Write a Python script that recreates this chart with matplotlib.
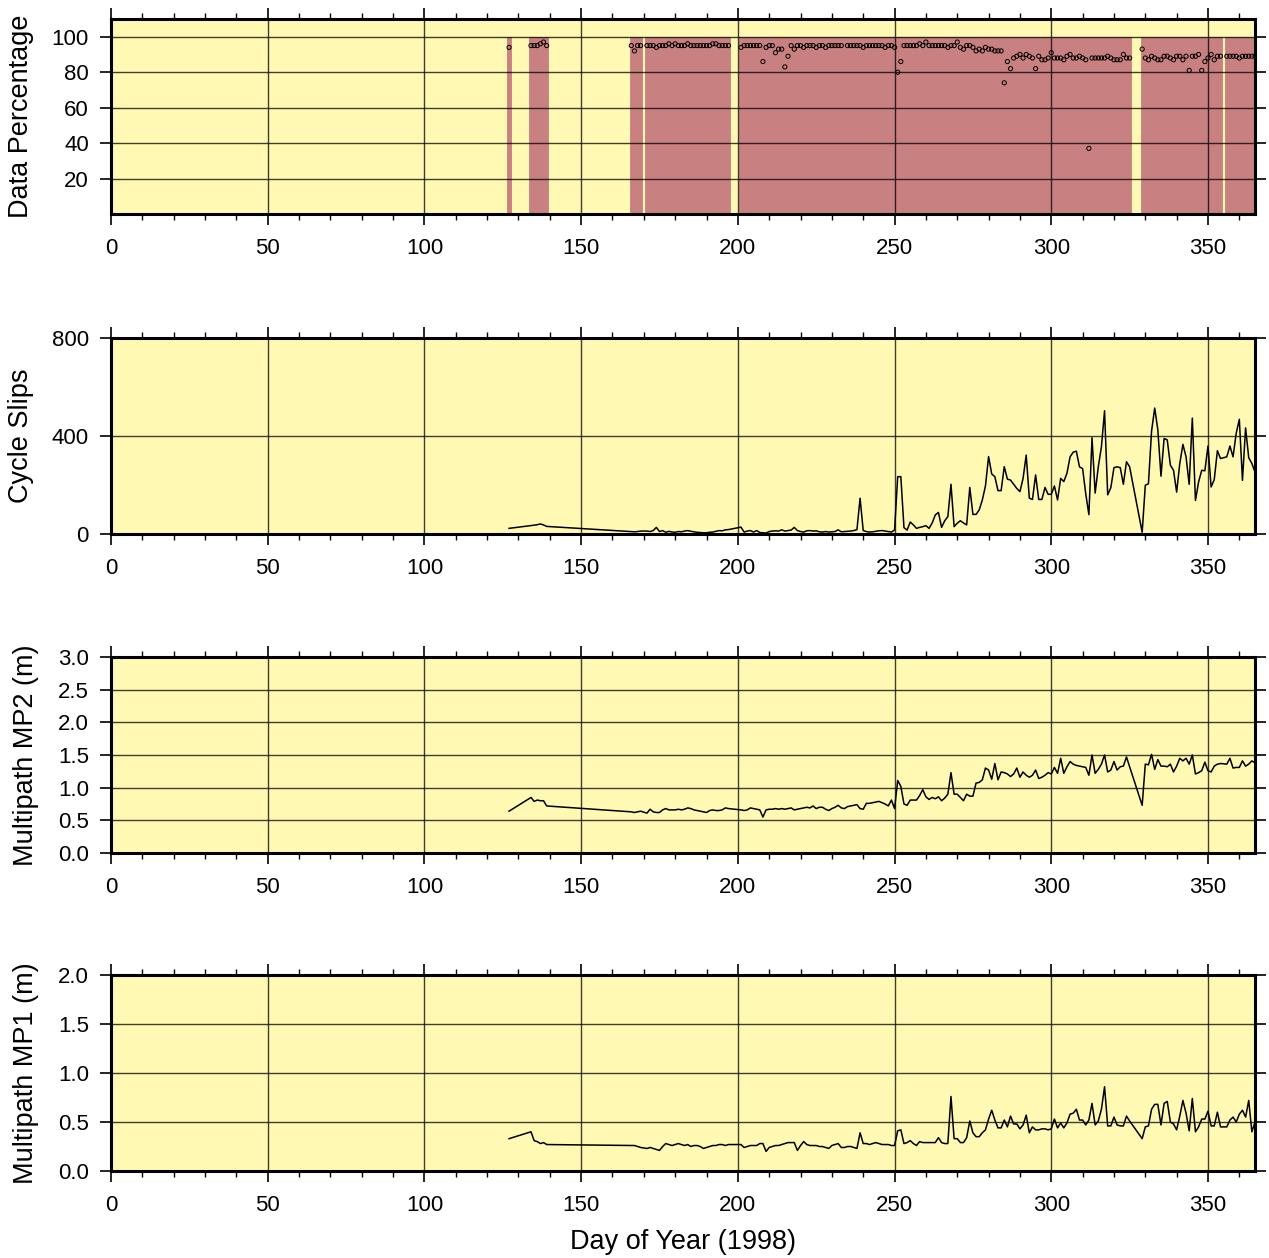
import numpy as np
import matplotlib
matplotlib.use("Agg")
import matplotlib.pyplot as plt
from matplotlib.ticker import MultipleLocator

plt.rcParams['font.family'] = ['Liberation Sans', 'DejaVu Sans']

# ---------------- data ----------------
days = ([127] + list(range(134, 140)) + list(range(166, 170)) + list(range(171, 198))
        + list(range(201, 326)) + list(range(329, 355)) + list(range(356, 366)))

data_pct = ([94]
    + [95, 95, 95, 96, 97, 95]
    + [95, 92, 95, 95]
    + [95, 95, 95, 94, 95, 95, 95, 96, 95, 96, 95, 95, 95, 96, 95, 95, 95, 95, 95, 95, 95, 96, 96, 95, 95, 95, 95]
    + [94, 95, 95, 95, 95, 95, 95, 86, 94, 95,
       95, 91, 93, 93, 83, 89, 95, 93, 95, 95,
       94, 95, 95, 95, 94, 95, 95, 94, 95, 95,
       95, 95, 95, np.nan, 95, 95, 95, 95]
    + [95, 94, 95, 95, 95, 95, 95, 95, 94, 95, 95, 94]
    + [80, 86, 95, 95, 95, 95, 95, 96, 95, 97]
    + [95, 95, 95, 95, 95, 95, 94, 95, 95, 97]
    + [94, 93, 95, 95, 94, 92, 93, 92, 94, 93]
    + [93, 92, 92, 92, 74, 86, 82, 88, 89, 90]
    + [88, 90, 89, 88, 82, 89, 87, 87, 88, 91]
    + [88, 88, 88, 87, 89, 90, 88, 88, 89, 88]
    + [87, 37, 88, 88, 88, 88, 88, 89, 88, 87]
    + [87, 87, 90, 88, 88]
    + [93, 88, 87, 89, 88, 87, 87, 89, 89, 88, 87, 89, 89, 87, 89, 81, 89, 89, 90, 81, 86, 88, 90, 87, 89, 89]
    + [89, 89, 89, 89, 88, 89, 89, 89, 89, 89])

cycle_slips = ([23]
    + [34, 36, 38, 41, 37, 31]
    + [10, 9, 10, 12]
    + [12, 10, 14, 27, 10, 14, 7, 11, 8, 7, 10, 9, 12, 14, 11, 9, 7, 6, 5, 5, 7, 8, 11, 14, 13, 17, 18]
    + [28, 8, 12, 14, 8, 14, 6, 5, 4, 10,
       12, 13, 12, 17, 12, 14, 16, 27, 14, 10,
       8, 13, 14, 12, 13, 9, 8, 10, 8, 9,
       10, 17, 9, 10, 11, 12, 14, 18]
    + [146, 14, 10, 8, 9, 11, 13, 14, 12, 10, 8, 16]
    + [234, 234, 26, 16, 49, 37, 23, 27, 30, 34]
    + [23, 45, 78, 88, 27, 54, 71, 203, 30, 44]
    + [54, 45, 37, 190, 80, 80, 98, 139, 196, 316]
    + [245, 234, 177, 177, 275, 224, 220, 203, 186, 173]
    + [227, 322, 146, 141, 241, 141, 141, 190, 162, 162]
    + [196, 139, 227, 214, 248, 315, 334, 338, 274, 267]
    + [164, 79, 393, 167, 274, 356, 503, 160, 189, 271]
    + [274, 271, 203, 295, 274]
    + [7, 199, 205, 420, 514, 425, 236, 390, 384, 281, 260, 171, 288, 366, 315, 203, 473, 137, 212, 260, 258, 359, 192, 222, 340, 308]
    + [315, 359, 315, 411, 468, 219, 433, 311, 288, 253])

mp2 = ([0.64]
    + [0.85, 0.79, 0.81, 0.80, 0.80, 0.72]
    + [0.63, 0.62, 0.63, 0.64]
    + [0.61, 0.67, 0.63, 0.62, 0.62, 0.66, 0.68, 0.66, 0.66, 0.66, 0.67, 0.66, 0.67, 0.69,
       0.68, 0.66, 0.65, 0.64, 0.63, 0.62, 0.65, 0.66, 0.65, 0.65, 0.66, 0.69, 0.68]
    + [0.66, 0.65, 0.66, 0.69, 0.68, 0.67, 0.66, 0.55, 0.66, 0.67,
       0.67, 0.68, 0.67, 0.68, 0.67, 0.68, 0.69, 0.66, 0.67, 0.68,
       0.69, 0.70, 0.69, 0.72, 0.68, 0.70, 0.70, 0.67, 0.65, 0.68,
       0.70, 0.73, 0.69, 0.68, 0.71, 0.72, 0.73, 0.74]
    + [0.68, 0.67, 0.76, 0.76, 0.77, 0.78, 0.79, 0.77, 0.75, 0.72, 0.81, 0.68]
    + [1.11, 1.02, 0.75, 0.73, 0.81, 0.81, 0.81, 0.88, 0.97, 0.86]
    + [0.82, 0.85, 0.83, 0.86, 0.80, 0.84, 0.90, 1.23, 0.90, 0.90]
    + [0.85, 0.80, 0.90, 0.87, 0.87, 1.07, 1.08, 1.12, 1.30, 1.27]
    + [1.13, 1.37, 1.12, 1.24, 1.23, 1.21, 1.17, 1.21, 1.30, 1.16]
    + [1.24, 1.19, 1.16, 1.19, 1.27, 1.14, 1.16, 1.19, 1.23, 1.21]
    + [1.31, 1.22, 1.45, 1.22, 1.32, 1.40, 1.36, 1.34, 1.33, 1.32]
    + [1.31, 1.19, 1.50, 1.22, 1.28, 1.36, 1.50, 1.24, 1.27, 1.40]
    + [1.27, 1.32, 1.33, 1.47, 1.32]
    + [0.73, 1.36, 1.35, 1.51, 1.28, 1.43, 1.33, 1.33, 1.32, 1.36, 1.24, 1.33, 1.45,
       1.41, 1.45, 1.36, 1.50, 1.21, 1.23, 1.26, 1.39, 1.26, 1.24, 1.33, 1.36, 1.37]
    + [1.36, 1.45, 1.30, 1.31, 1.31, 1.41, 1.33, 1.36, 1.41, 1.38])

mp1 = ([0.33]
    + [0.40, 0.31, 0.30, 0.28, 0.29, 0.27]
    + [0.26, 0.26, 0.25, 0.24]
    + [0.23, 0.24, 0.23, 0.22, 0.21, 0.25, 0.28, 0.27, 0.26, 0.27, 0.28, 0.27, 0.26, 0.27,
       0.25, 0.26, 0.26, 0.25, 0.23, 0.24, 0.25, 0.26, 0.26, 0.27, 0.27, 0.26, 0.27]
    + [0.27, 0.24, 0.25, 0.26, 0.26, 0.26, 0.28, 0.28, 0.20, 0.24,
       0.25, 0.26, 0.26, 0.27, 0.28, 0.29, 0.29, 0.29, 0.21, 0.26,
       0.30, 0.27, 0.26, 0.26, 0.26, 0.25, 0.25, 0.24, 0.23, 0.26,
       0.27, 0.28, 0.24, 0.24, 0.25, 0.25, 0.24, 0.23]
    + [0.39, 0.28, 0.28, 0.27, 0.28, 0.29, 0.28, 0.27, 0.27, 0.27, 0.26, 0.26]
    + [0.41, 0.42, 0.28, 0.29, 0.31, 0.28, 0.26, 0.30, 0.29, 0.29]
    + [0.29, 0.29, 0.29, 0.34, 0.29, 0.28, 0.28, 0.76, 0.33, 0.33]
    + [0.29, 0.29, 0.34, 0.51, 0.39, 0.35, 0.35, 0.39, 0.42, 0.53]
    + [0.62, 0.52, 0.44, 0.44, 0.52, 0.45, 0.56, 0.48, 0.48, 0.43]
    + [0.47, 0.57, 0.39, 0.45, 0.42, 0.42, 0.43, 0.43, 0.42, 0.43]
    + [0.53, 0.44, 0.49, 0.44, 0.49, 0.58, 0.59, 0.63, 0.52, 0.52]
    + [0.47, 0.52, 0.69, 0.47, 0.51, 0.63, 0.86, 0.46, 0.46, 0.55]
    + [0.47, 0.46, 0.46, 0.56, 0.51]
    + [0.33, 0.45, 0.46, 0.63, 0.68, 0.68, 0.47, 0.69, 0.71, 0.50, 0.48, 0.42, 0.56,
       0.72, 0.59, 0.41, 0.74, 0.40, 0.45, 0.53, 0.53, 0.61, 0.46, 0.46, 0.60, 0.45]
    + [0.45, 0.52, 0.55, 0.50, 0.58, 0.62, 0.55, 0.72, 0.40, 0.50])

x_ticks = [0, 50, 100, 150, 200, 250, 300, 350]
ylabels = ["Data Percentage", "Cycle Slips", "Multipath MP2 (m)", "Multipath MP1 (m)"]
xlabel = "Day of Year (1998)"

# ---------------- style ----------------
BG = "#FFF9B3"
RED = "#C88080"
W, H = 1269, 1258
fig = plt.figure(figsize=(W / 100, H / 100), dpi=100)

left = 111 / W
axw = 1255 - 111
width = axw / W
panels = [(19, 214), (338, 534), (657, 853), (975, 1171)]
axes = []
for top, bot in panels:
    ax = fig.add_axes([left, 1 - bot / H, width, (bot - top) / H])
    axes.append(ax)

ylims = [(0, 110), (0, 800), (0, 3.0), (0, 2.0)]
yticks = [[20, 40, 60, 80, 100], [0, 400, 800],
          [0.0, 0.5, 1.0, 1.5, 2.0, 2.5, 3.0], [0.0, 0.5, 1.0, 1.5, 2.0]]
yfmt = [lambda v: f"{v:g}", lambda v: f"{v:g}", lambda v: f"{v:.1f}", lambda v: f"{v:.1f}"]
label_right_px = [34, 34, 39, 39]

for i, ax in enumerate(axes):
    ax.set_facecolor(BG)
    ax.set_xlim(0, 365)
    ax.set_ylim(*ylims[i])
    ax.set_xticks(x_ticks)
    ax.xaxis.set_minor_locator(MultipleLocator(10))
    ax.set_yticks(yticks[i])
    ax.set_yticklabels([yfmt[i](v) for v in yticks[i]])
    ax.tick_params(axis='both', which='major', direction='out', length=8, width=1.2,
                   labelsize=16, top=True, right=True)
    ax.tick_params(axis='x', which='major', pad=9)
    ax.tick_params(axis='y', which='major', pad=8)
    ax.tick_params(axis='x', which='minor', direction='out', length=4, width=1.0,
                   top=True, bottom=True)
    ax.grid(True, which='major', color='black', linewidth=1.0, alpha=0.75)
    ax.set_axisbelow(False)
    for sp in ax.spines.values():
        sp.set_linewidth(2.2)
    ax.set_ylabel(ylabels[i], fontsize=19.5)
    ax.yaxis.set_label_coords((label_right_px[i] - 111) / axw, 0.5)

# Panel 1: availability bars + percentage points
ax = axes[0]
ax.bar(days, [100] * len(days), width=1.0, color=RED, edgecolor=RED, linewidth=0.6, zorder=1)
ax.scatter(days, data_pct, s=9, facecolors='none', edgecolors='black', linewidths=0.7, zorder=4)

axes[1].plot(days, cycle_slips, color='black', linewidth=1.1, zorder=4)
axes[2].plot(days, mp2, color='black', linewidth=1.1, zorder=4)
axes[3].plot(days, mp1, color='black', linewidth=1.1, zorder=4)

axes[3].set_xlabel(xlabel, fontsize=19.5, va='top')
axes[3].xaxis.set_label_coords(0.5, -(1229 - 1171) / 196)

fig.savefig("out.png", dpi=100)
